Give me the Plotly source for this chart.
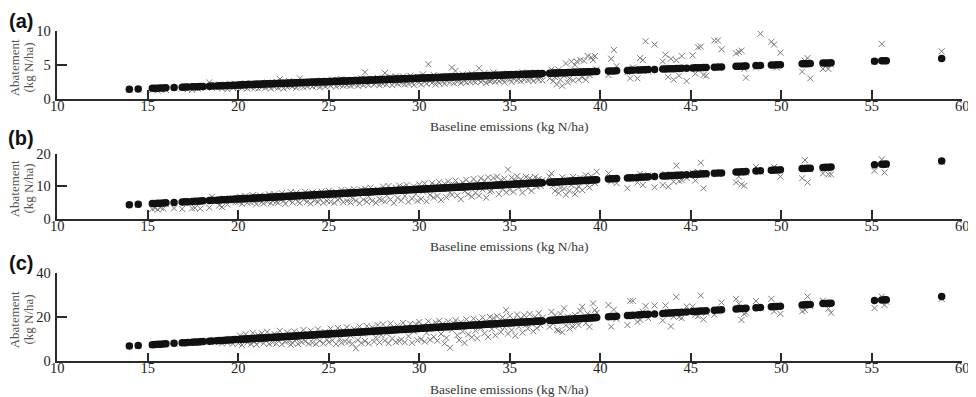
import plotly.graph_objects as go

W, H = 976, 397

# ---------------- data ----------------
# Baseline emissions (kg N/ha), one value per farm, shared by all three panels
emis_low = [13.98, 14.47, 15.25, 15.4, 15.55, 15.7, 15.85, 16.0, 16.45, 16.9, 17.05, 17.2, 17.45, 17.6,
            17.75, 17.9, 18.05, 18.4, 18.55, 18.8, 18.95, 19.1, 19.25, 19.4, 19.55, 19.7, 19.85]
emis_dense = [
    20.0, 20.1, 20.2, 20.3, 20.4, 20.5, 20.6, 20.7, 20.8, 20.9,
    21.0, 21.1, 21.2, 21.3, 21.4, 21.5, 21.6, 21.7, 21.8, 21.9,
    22.0, 22.1, 22.2, 22.3, 22.4, 22.5, 22.6, 22.7, 22.8, 22.9,
    23.0, 23.1, 23.2, 23.3, 23.4, 23.5, 23.6, 23.7, 23.8, 23.9,
    24.0, 24.1, 24.2, 24.3, 24.4, 24.5, 24.6, 24.7, 24.8, 24.9,
    25.0, 25.1, 25.2, 25.3, 25.4, 25.5, 25.6, 25.7, 25.8, 25.9,
    26.0, 26.1, 26.2, 26.3, 26.4, 26.5, 26.6, 26.7, 26.8, 26.9,
    27.0, 27.1, 27.2, 27.3, 27.4, 27.5, 27.6, 27.7, 27.8, 27.9,
    28.0, 28.1, 28.2, 28.3, 28.4, 28.5, 28.6, 28.7, 28.8, 28.9,
    29.0, 29.1, 29.2, 29.3, 29.4, 29.5, 29.6, 29.7, 29.8, 29.9,
    30.0, 30.1, 30.2, 30.3, 30.4, 30.5, 30.6, 30.7, 30.8, 30.9,
    31.0, 31.1, 31.2, 31.3, 31.4, 31.5, 31.6, 31.7, 31.8, 31.9,
    32.0, 32.1, 32.2, 32.3, 32.4, 32.5, 32.6, 32.7, 32.8, 32.9,
    33.0, 33.1, 33.2, 33.3, 33.4, 33.5, 33.6, 33.7, 33.8, 33.9,
    34.0, 34.1, 34.2, 34.3, 34.4, 34.5, 34.6, 34.7, 34.8, 34.9,
    35.0, 35.1, 35.2, 35.3, 35.4, 35.5, 35.6, 35.7, 35.8, 35.9,
    36.0, 36.1, 36.2, 36.3, 36.4, 36.5, 36.6, 36.7, 36.8]
emis_mid = [37.2, 37.3, 37.4, 37.5, 37.6, 37.7, 37.8, 37.9, 38.0, 38.1, 38.2, 38.3, 38.4, 38.5,
            38.6, 38.7, 38.8, 38.9, 39.0, 39.1, 39.2, 39.3, 39.4, 39.5, 39.6, 39.7, 39.8]
emis_high = [40.45, 40.6, 40.75, 40.9, 41.5, 41.65, 41.8, 42.05, 42.2, 42.35, 42.5, 42.65, 43.0,
             43.45, 43.6, 43.75, 43.9, 44.05, 44.2, 44.35, 44.5, 44.77, 45.1, 45.25, 45.4, 45.55,
             45.7, 45.85, 46.3, 46.5, 46.7, 47.5, 47.65, 47.8, 47.95, 48.05, 48.6, 48.85, 49.45,
             49.6, 49.75, 49.95, 51.15, 51.3, 51.45, 51.6, 52.3, 52.45, 52.6, 52.75, 55.15, 55.55,
             55.7, 55.8, 58.86]

# Panel (a): uniform-rate abatement (dots) and farm-specific abatement (crosses)
fitted_a = [
    1.40, 1.45, 1.53, 1.54, 1.56, 1.57, 1.59, 1.60, 1.65, 1.69, 1.71, 1.72, 1.75, 1.76, 1.78, 1.79,
    1.81, 1.84, 1.86, 1.88, 1.90, 1.91, 1.93, 1.94, 1.96, 1.97, 1.99,
    2.03, 2.04, 2.05, 2.06, 2.07, 2.08, 2.09, 2.10, 2.11, 2.12,
    2.13, 2.14, 2.15, 2.16, 2.17, 2.18, 2.19, 2.20, 2.21, 2.22,
    2.23, 2.24, 2.25, 2.26, 2.27, 2.28, 2.29, 2.30, 2.31, 2.32,
    2.33, 2.34, 2.35, 2.36, 2.37, 2.38, 2.39, 2.40, 2.41, 2.42,
    2.43, 2.44, 2.45, 2.46, 2.47, 2.48, 2.49, 2.50, 2.51, 2.52,
    2.53, 2.54, 2.55, 2.56, 2.57, 2.58, 2.59, 2.60, 2.61, 2.62,
    2.63, 2.64, 2.65, 2.66, 2.67, 2.68, 2.69, 2.70, 2.71, 2.72,
    2.73, 2.74, 2.75, 2.76, 2.77, 2.78, 2.79, 2.80, 2.81, 2.82,
    2.83, 2.84, 2.85, 2.86, 2.87, 2.88, 2.89, 2.90, 2.91, 2.92,
    2.93, 2.94, 2.95, 2.96, 2.97, 2.98, 2.99, 3.00, 3.01, 3.02,
    3.03, 3.04, 3.05, 3.06, 3.07, 3.08, 3.09, 3.10, 3.11, 3.12,
    3.13, 3.14, 3.15, 3.16, 3.17, 3.18, 3.19, 3.20, 3.21, 3.22,
    3.23, 3.24, 3.25, 3.26, 3.27, 3.28, 3.29, 3.30, 3.31, 3.32,
    3.33, 3.34, 3.35, 3.36, 3.37, 3.38, 3.39, 3.40, 3.41, 3.42,
    3.43, 3.44, 3.45, 3.46, 3.47, 3.48, 3.49, 3.50, 3.51, 3.52,
    3.53, 3.54, 3.55, 3.56, 3.57, 3.58, 3.59, 3.60, 3.61, 3.62,
    3.63, 3.64, 3.65, 3.66, 3.67, 3.68, 3.69, 3.70, 3.71,
    3.76, 3.77, 3.78, 3.79, 3.80, 3.81, 3.82, 3.83, 3.84, 3.85, 3.86, 3.87, 3.88, 3.89,
    3.90, 3.91, 3.92, 3.93, 3.94, 3.95, 3.96, 3.97, 3.98, 3.99, 4.00, 4.01, 4.02,
    4.08, 4.09, 4.11, 4.12, 4.18, 4.20, 4.21, 4.24, 4.25, 4.27, 4.28, 4.30, 4.33, 4.38, 4.39,
    4.41, 4.42, 4.44, 4.45, 4.47, 4.48, 4.51, 4.54, 4.56, 4.57, 4.59, 4.60, 4.62, 4.66, 4.68,
    4.70, 4.78, 4.80, 4.81, 4.83, 4.84, 4.89, 4.92, 4.98, 4.99, 5.01, 5.03, 5.15, 5.16, 5.18,
    5.19, 5.26, 5.28, 5.29, 5.31, 5.55, 5.59, 5.60, 5.61, 5.92]
farm_a = [
    1.3, 1.4, 1.3, 1.5, 1.2, 1.4, 1.6, 1.3, 1.6, 1.5, 1.8, 1.4, 1.3, 1.9, 1.5, 1.6, 1.7, 2.4,
    1.6, 1.7, 2.1, 1.5, 1.8, 1.4, 2.2, 1.6, 1.8,
    1.7, 2.1, 1.6, 1.8, 2.3, 1.5, 1.9, 1.7, 2.2, 1.6,
    1.8, 1.5, 2.3, 1.7, 1.9, 1.6, 2.4, 1.8, 1.5, 2.0,
    1.7, 2.5, 1.6, 2.9, 1.8, 1.5, 2.0, 1.7, 2.6, 1.9,
    1.8, 2.1, 1.6, 2.5, 3.0, 1.9, 1.7, 2.2, 1.8, 2.6,
    2.0, 1.8, 2.6, 1.9, 2.2, 1.7, 2.7, 2.0, 1.8, 2.3,
    2.1, 1.9, 2.8, 2.2, 1.8, 2.3, 2.0, 2.9, 1.9, 2.2,
    2.0, 2.3, 1.9, 2.8, 2.1, 2.4, 1.9, 2.2, 3.0, 2.0,
    3.9, 2.2, 2.0, 2.5, 2.9, 2.1, 2.3, 3.1, 2.0, 2.4,
    2.2, 3.8, 2.1, 2.5, 3.2, 2.0, 2.4, 3.3, 2.2, 2.6,
    2.3, 3.3, 2.1, 2.6, 2.2, 3.4, 2.4, 2.0, 2.7, 3.2,
    2.4, 2.1, 3.6, 2.5, 2.2, 5.1, 2.6, 2.3, 3.5, 2.1,
    2.6, 2.3, 3.3, 2.5, 2.2, 2.7, 3.4, 2.4, 4.6, 2.3,
    4.1, 2.5, 2.8, 2.3, 3.6, 2.6, 2.4, 3.0, 2.5, 3.7,
    2.6, 2.4, 2.9, 4.5, 2.5, 2.7, 3.8, 2.3, 2.8, 2.6,
    2.7, 3.9, 2.5, 2.9, 2.6, 3.3, 2.8, 2.4, 3.0, 3.7,
    2.8, 2.5, 3.0, 3.6, 2.7, 2.9, 2.6, 3.9, 2.8, 3.1,
    2.7, 3.2, 2.9, 2.6, 3.9, 3.0, 2.8, 3.3, 2.7,
    3.0, 4.3, 2.6, 3.2, 2.1, 4.3, 2.8, 1.9, 3.4, 5.2, 2.4, 3.0, 5.5, 2.7,
    5.0, 5.5, 2.8, 5.7, 3.2, 5.6, 2.8, 6.3, 3.5, 6.1, 5.7, 6.3, 4.3,
    3.5, 5.9, 7.2, 4.8, 3.9, 3.0, 4.6, 3.0, 6.0, 5.7, 8.5, 4.1, 8.0, 5.5, 6.5,
    3.2, 5.9, 2.8, 5.7, 3.4, 6.3, 2.6, 6.4, 3.7, 7.6, 7.7, 3.5, 3.4, 8.6, 8.6,
    7.3, 6.7, 6.9, 7.1, 4.4, 3.1, 4.6, 9.6, 8.4, 8.0, 4.6, 6.8, 4.0, 5.6, 6.0,
    3.0, 4.4, 4.8, 4.4, 5.0, 5.5, 8.1, 5.6, 5.5, 7.0]

# Panel (b)
fitted_b = [
    4.29, 4.44, 4.68, 4.72, 4.77, 4.81, 4.86, 4.90, 5.04, 5.17, 5.22, 5.26, 5.34, 5.38, 5.43, 5.47,
    5.52, 5.62, 5.67, 5.74, 5.79, 5.83, 5.88, 5.92, 5.97, 6.01, 6.06,
    6.10, 6.13, 6.16, 6.19, 6.22, 6.25, 6.28, 6.31, 6.34, 6.37,
    6.40, 6.43, 6.46, 6.49, 6.52, 6.55, 6.58, 6.61, 6.64, 6.67,
    6.70, 6.73, 6.76, 6.79, 6.82, 6.85, 6.88, 6.91, 6.94, 6.97,
    7.00, 7.03, 7.06, 7.09, 7.12, 7.15, 7.18, 7.21, 7.24, 7.27,
    7.30, 7.33, 7.36, 7.39, 7.42, 7.45, 7.48, 7.51, 7.54, 7.57,
    7.60, 7.63, 7.66, 7.69, 7.72, 7.75, 7.78, 7.81, 7.84, 7.87,
    7.90, 7.93, 7.96, 7.99, 8.02, 8.05, 8.08, 8.11, 8.14, 8.17,
    8.20, 8.23, 8.26, 8.29, 8.32, 8.35, 8.38, 8.41, 8.44, 8.47,
    8.50, 8.53, 8.56, 8.59, 8.62, 8.65, 8.68, 8.71, 8.74, 8.77,
    8.80, 8.83, 8.86, 8.89, 8.92, 8.95, 8.98, 9.01, 9.04, 9.07,
    9.10, 9.13, 9.16, 9.19, 9.22, 9.25, 9.28, 9.31, 9.34, 9.37,
    9.40, 9.43, 9.46, 9.49, 9.52, 9.55, 9.58, 9.61, 9.64, 9.67,
    9.70, 9.73, 9.76, 9.79, 9.82, 9.85, 9.88, 9.91, 9.94, 9.97,
    10.00, 10.03, 10.06, 10.09, 10.12, 10.15, 10.18, 10.21, 10.24, 10.27,
    10.30, 10.33, 10.36, 10.39, 10.42, 10.45, 10.48, 10.51, 10.54, 10.57,
    10.60, 10.63, 10.66, 10.69, 10.72, 10.75, 10.78, 10.81, 10.84, 10.87,
    10.90, 10.93, 10.96, 10.99, 11.02, 11.05, 11.08, 11.11, 11.14,
    11.26, 11.29, 11.32, 11.35, 11.38, 11.41, 11.44, 11.47, 11.50, 11.53, 11.56, 11.59, 11.62,
    11.65, 11.68, 11.71, 11.74, 11.77, 11.80, 11.83, 11.86, 11.89, 11.92, 11.95, 11.98, 12.01, 12.04,
    12.29, 12.33, 12.38, 12.42, 12.60, 12.65, 12.69, 12.77, 12.81, 12.86, 12.90, 12.95, 13.05,
    13.19, 13.23, 13.28, 13.32, 13.37, 13.41, 13.46, 13.50, 13.58, 13.68, 13.73, 13.77, 13.82,
    13.86, 13.91, 14.04, 14.10, 14.16, 14.40, 14.45, 14.49, 14.54, 14.57, 14.73, 14.81, 14.99,
    15.03, 15.08, 15.14, 15.50, 15.54, 15.59, 15.63, 15.84, 15.89, 15.93, 15.98, 16.70, 16.82,
    16.86, 16.89, 17.81]
farm_b = [
    4.2, 4.3, 3.0, 3.3, 2.8, 3.4, 3.1, 4.5, 3.2, 3.0, 4.9, 5.0, 3.2, 3.3, 5.2, 3.1, 5.4, 3.4,
    6.8, 5.5, 4.1, 3.6, 6.2, 4.4, 5.6, 6.4, 5.1,
    5.2, 6.8, 4.6, 5.5, 7.0, 4.9, 6.2, 5.0, 7.3, 5.4,
    4.5, 5.8, 7.2, 5.1, 4.7, 6.9, 5.3, 7.5, 4.8, 5.6,
    7.6, 5.2, 4.9, 6.1, 7.9, 5.5, 4.6, 7.1, 5.8, 8.2,
    5.0, 6.4, 8.0, 5.3, 4.8, 7.6, 5.9, 8.3, 5.2, 6.6,
    4.7, 8.1, 5.6, 7.9, 5.1, 6.2, 8.4, 4.9, 7.0, 5.5,
    8.6, 5.3, 7.1, 4.9, 8.2, 5.8, 6.5, 8.9, 5.1, 7.4,
    5.4, 8.8, 5.0, 6.3, 9.1, 5.6, 7.7, 4.8, 8.9, 5.9,
    9.3, 5.2, 6.8, 9.6, 5.5, 8.4, 4.9, 9.0, 6.1, 5.7,
    9.9, 5.3, 7.2, 10.1, 5.9, 8.6, 4.8, 9.5, 6.4, 10.2,
    5.6, 9.8, 7.0, 10.4, 5.2, 8.9, 6.2, 10.0, 7.6, 5.5,
    10.6, 6.1, 8.4, 10.9, 5.4, 9.7, 7.3, 11.0, 6.5, 10.3,
    7.0, 11.3, 5.8, 9.2, 10.8, 6.6, 11.5, 8.1, 7.4, 10.5,
    11.8, 7.2, 10.4, 6.0, 11.2, 8.5, 12.0, 7.6, 10.9, 6.8,
    12.3, 8.0, 11.1, 7.1, 12.5, 9.0, 11.7, 6.5, 12.8, 8.4,
    8.7, 12.6, 10.0, 13.0, 7.6, 11.9, 9.2, 12.4, 8.1, 15.2,
    9.0, 12.7, 8.3, 11.8, 13.1, 9.6, 12.2, 8.0, 11.4, 12.9,
    9.4, 12.5, 8.6, 11.7, 12.9, 9.9, 12.3, 10.2, 11.9,
    13.0, 14.0, 10.2, 8.6, 11.0, 7.9, 9.5, 12.8, 9.3, 7.4, 11.8, 8.6, 10.4, 12.9,
    7.6, 9.1, 10.0, 12.6, 8.8, 11.2, 13.4, 10.3, 9.6, 13.1, 12.2, 11.0, 14.5,
    14.0, 11.5, 12.4, 11.0, 9.4, 12.9, 12.3, 11.2, 13.9, 10.4, 12.5, 13.4, 9.7, 10.4, 13.8,
    9.9, 12.8, 11.4, 16.4, 11.7, 11.9, 12.6, 14.2, 11.8, 14.4, 17.3, 9.4, 13.5, 14.0, 13.8,
    14.2, 11.2, 13.0, 10.6, 10.2, 14.2, 16.0, 14.5, 15.2, 16.0, 14.8, 13.0, 12.5, 18.1, 11.2,
    15.3, 14.0, 15.6, 13.7, 13.7, 14.8, 18.3, 14.3, 16.5, 17.6]

# Panel (c)
fitted_c = [
    6.89, 7.14, 7.53, 7.60, 7.68, 7.75, 7.83, 7.90, 8.13, 8.35, 8.43, 8.50, 8.63, 8.70, 8.78, 8.85,
    8.93, 9.10, 9.18, 9.30, 9.38, 9.45, 9.53, 9.60, 9.68, 9.75, 9.83,
    9.90, 9.95, 10.00, 10.05, 10.10, 10.15, 10.20, 10.25, 10.30, 10.35,
    10.40, 10.45, 10.50, 10.55, 10.60, 10.65, 10.70, 10.75, 10.80, 10.85,
    10.90, 10.95, 11.00, 11.05, 11.10, 11.15, 11.20, 11.25, 11.30, 11.35,
    11.40, 11.45, 11.50, 11.55, 11.60, 11.65, 11.70, 11.75, 11.80, 11.85,
    11.90, 11.95, 12.00, 12.05, 12.10, 12.15, 12.20, 12.25, 12.30, 12.35,
    12.40, 12.45, 12.50, 12.55, 12.60, 12.65, 12.70, 12.75, 12.80, 12.85,
    12.90, 12.95, 13.00, 13.05, 13.10, 13.15, 13.20, 13.25, 13.30, 13.35,
    13.40, 13.45, 13.50, 13.55, 13.60, 13.65, 13.70, 13.75, 13.80, 13.85,
    13.90, 13.95, 14.00, 14.05, 14.10, 14.15, 14.20, 14.25, 14.30, 14.35,
    14.40, 14.45, 14.50, 14.55, 14.60, 14.65, 14.70, 14.75, 14.80, 14.85,
    14.90, 14.95, 15.00, 15.05, 15.10, 15.15, 15.20, 15.25, 15.30, 15.35,
    15.40, 15.45, 15.50, 15.55, 15.60, 15.65, 15.70, 15.75, 15.80, 15.85,
    15.90, 15.95, 16.00, 16.05, 16.10, 16.15, 16.20, 16.25, 16.30, 16.35,
    16.40, 16.45, 16.50, 16.55, 16.60, 16.65, 16.70, 16.75, 16.80, 16.85,
    16.90, 16.95, 17.00, 17.05, 17.10, 17.15, 17.20, 17.25, 17.30, 17.35,
    17.40, 17.45, 17.50, 17.55, 17.60, 17.65, 17.70, 17.75, 17.80, 17.85,
    17.90, 17.95, 18.00, 18.05, 18.10, 18.15, 18.20, 18.25, 18.30,
    18.50, 18.55, 18.60, 18.65, 18.70, 18.75, 18.80, 18.85, 18.90, 18.95, 19.00, 19.05, 19.10,
    19.15, 19.20, 19.25, 19.30, 19.35, 19.40, 19.45, 19.50, 19.55, 19.60, 19.65, 19.70, 19.75, 19.80,
    20.20, 20.28, 20.35, 20.43, 20.73, 20.80, 20.88, 21.00, 21.08, 21.15, 21.23, 21.30, 21.48,
    21.70, 21.78, 21.85, 21.93, 22.00, 22.08, 22.15, 22.23, 22.36, 22.53, 22.60, 22.68, 22.75,
    22.83, 22.90, 23.13, 23.23, 23.33, 23.73, 23.80, 23.88, 23.95, 24.00, 24.28, 24.40, 24.70,
    24.78, 24.85, 24.95, 25.55, 25.63, 25.70, 25.78, 26.13, 26.20, 26.28, 26.35, 27.55, 27.75,
    27.83, 27.88, 29.40]
farm_c = [
    6.8, 7.0, 7.4, 7.5, 7.6, 7.7, 7.8, 7.8, 8.0, 8.2, 8.3, 8.4, 8.5, 8.6, 8.6, 8.7, 8.8, 9.0,
    9.2, 9.1, 8.9, 8.1, 9.4, 8.4, 10.2, 8.0, 9.7,
    8.1, 11.6, 7.4, 9.2, 12.3, 8.5, 10.8, 7.8, 12.9, 8.9,
    7.6, 11.9, 9.0, 12.7, 8.2, 10.1, 13.3, 7.9, 11.2, 8.6,
    12.4, 8.0, 9.7, 13.8, 7.7, 11.5, 8.8, 13.1, 9.4, 7.5,
    8.3, 13.6, 9.9, 7.8, 12.8, 8.7, 14.2, 9.1, 11.9, 8.0,
    13.9, 8.4, 10.6, 7.9, 14.5, 9.3, 12.2, 8.1, 13.4, 9.8,
    8.6, 14.8, 9.5, 12.9, 7.8, 15.1, 10.2, 8.4, 14.0, 9.0,
    15.4, 8.8, 11.7, 8.0, 14.6, 5.9, 9.6, 15.8, 8.3, 12.5,
    9.2, 16.0, 8.1, 13.0, 15.3, 8.9, 10.8, 16.4, 8.5, 11.9,
    16.7, 9.4, 12.6, 8.2, 17.1, 10.3, 15.5, 8.7, 16.2, 9.1,
    9.8, 17.4, 8.6, 15.2, 11.4, 17.0, 8.4, 13.6, 16.8, 9.5,
    17.8, 10.0, 16.0, 8.9, 12.9, 18.1, 9.7, 16.6, 11.1, 17.5,
    9.3, 18.3, 12.4, 16.9, 8.1, 10.6, 18.0, 6.1, 14.3, 17.2,
    18.6, 11.8, 9.6, 17.7, 13.5, 8.3, 19.0, 12.2, 16.4, 10.9,
    19.3, 13.9, 10.4, 18.2, 15.1, 19.8, 12.7, 17.4, 11.0, 20.1,
    14.6, 19.6, 11.8, 20.4, 16.0, 13.2, 19.9, 15.3, 23.2, 12.5,
    20.6, 14.1, 18.9, 11.6, 21.2, 15.7, 19.4, 13.0, 20.8, 16.5,
    14.8, 21.4, 17.2, 13.6, 20.2, 15.0, 21.8, 16.3, 19.6,
    15.6, 22.4, 17.0, 20.8, 14.2, 13.9, 21.5, 13.2, 24.0, 16.3, 20.1, 14.8, 17.7, 15.6,
    21.0, 18.2, 16.4, 22.8, 24.7, 19.1, 17.3, 21.6, 15.6, 20.5, 26.2, 23.2, 22.0,
    25.5, 15.7, 23.4, 19.2, 16.4, 27.4, 27.4, 17.8, 18.8, 22.4, 25.0, 19.5, 25.3, 18.5, 25.3,
    22.3, 15.8, 20.2, 29.1, 20.0, 19.6, 24.8, 24.8, 21.1, 20.4, 29.8, 19.0, 22.0, 21.1, 22.6,
    26.6, 28.3, 26.1, 18.7, 21.5, 22.0, 27.3, 24.0, 28.3, 22.6, 25.0, 21.5, 22.6, 23.3, 29.3,
    25.0, 27.5, 26.0, 23.8, 22.0, 24.1, 29.3, 25.5, 27.0, 28.3]

panel_labels = ["(a)", "(b)", "(c)"]
y_ranges = [[0, 10], [0, 20], [0, 40]]
y_ticks = [[0, 5, 10], [0, 10, 20], [0, 20, 40]]
x_ticks = [10, 15, 20, 25, 30, 35, 40, 45, 50, 55, 60]
x_title = "Baseline emissions (kg N/ha)"
y_title_lines = ["Abatement", "(kg N/ha)"]

emissions = emis_low + emis_dense + emis_mid + emis_high
for s in (fitted_a, farm_a, fitted_b, farm_b, fitted_c, farm_c):
    assert len(s) == len(emissions), (len(s), len(emissions))

# ---------------- layout geometry (pixels in the viewport) ----------------
OFF = 8  # the page body adds an 8px margin around the figure
x_px = (57.3, 962.3)
panels_px = [(31.0, 98.7), (154.0, 218.7), (273.0, 361.3)]   # (top, bottom) of each plot area
label_cy = [21.0, 137.5, 262.5]
ytitle_cy = [67.5, 188.5, 319.5]
ytitle_cx = (14.8, 28.0)

SERIF = "Liberation Serif, Times New Roman, serif"
AX = "#2a2a2a"

def px_x(p):
    return (p - OFF) / W

def px_y(p):
    return 1 - (p - OFF) / H

fig = go.Figure()
series = [(fitted_a, farm_a), (fitted_b, farm_b), (fitted_c, farm_c)]
annotations = []
for i, (fit, farm) in enumerate(series):
    n = "" if i == 0 else str(i + 1)
    fig.add_trace(go.Scatter(
        x=emissions, y=farm, mode="markers", xaxis="x" + n, yaxis="y" + n,
        marker=dict(symbol="x-thin", size=6, line=dict(width=1, color="#7a7a7a")),
        hoverinfo="skip", showlegend=False))
    fig.add_trace(go.Scatter(
        x=emissions, y=fit, mode="markers", xaxis="x" + n, yaxis="y" + n,
        marker=dict(symbol="circle", size=7.5, color="#111111", line=dict(width=0)),
        hoverinfo="skip", showlegend=False))
    top, bot = panels_px[i]
    fig.layout["xaxis" + n] = dict(
        domain=[px_x(x_px[0]), px_x(x_px[1])], anchor="y" + n, range=[10, 60],
        tickmode="array", tickvals=x_ticks, ticks="inside", ticklen=9, tickwidth=1.5,
        tickcolor=AX, showline=True, linecolor=AX, linewidth=1.5, showgrid=False,
        zeroline=False, automargin=False,
        tickfont=dict(family=SERIF, size=14.5, color="#222"),
        ticklabelstandoff=-7, fixedrange=True)
    fig.layout["yaxis" + n] = dict(
        domain=[px_y(bot), px_y(top)], anchor="x" + n, range=y_ranges[i],
        tickmode="array", tickvals=y_ticks[i], ticks="inside", ticklen=10, tickwidth=1.5,
        tickcolor=AX, showline=True, linecolor=AX, linewidth=1.5, showgrid=False,
        zeroline=False, automargin=False,
        tickfont=dict(family=SERIF, size=14.5, color="#222"),
        ticklabelstandoff=2, fixedrange=True)
    # panel label
    annotations.append(dict(
        text="<b>" + panel_labels[i] + "</b>", xref="paper", yref="paper",
        x=px_x(20.5), y=px_y(label_cy[i]), xanchor="center", yanchor="middle",
        showarrow=False, font=dict(family="Liberation Sans, Arial, sans-serif", size=20, color="#111")))
    # x title
    annotations.append(dict(
        text=x_title, xref="paper", yref="paper",
        x=px_x((x_px[0] + x_px[1]) / 2), y=px_y(bot + 28), xanchor="center", yanchor="middle",
        showarrow=False, font=dict(family=SERIF, size=13.5, color="#333")))
    # y title, two rotated lines
    for line, cx in zip(y_title_lines, ytitle_cx):
        annotations.append(dict(
            text=line, xref="paper", yref="paper", textangle=-90,
            x=px_x(cx), y=px_y(ytitle_cy[i]), xanchor="center", yanchor="middle",
            showarrow=False, borderpad=0, font=dict(family=SERIF, size=13, color="#555")))

fig.update_layout(
    template="none",
    width=W, height=H, margin=dict(l=0, r=0, t=0, b=0, pad=0), autosize=False,
    paper_bgcolor="white", plot_bgcolor="white",
    annotations=annotations, showlegend=False)

fig.write_html("out.html", config={"displayModeBar": False})
